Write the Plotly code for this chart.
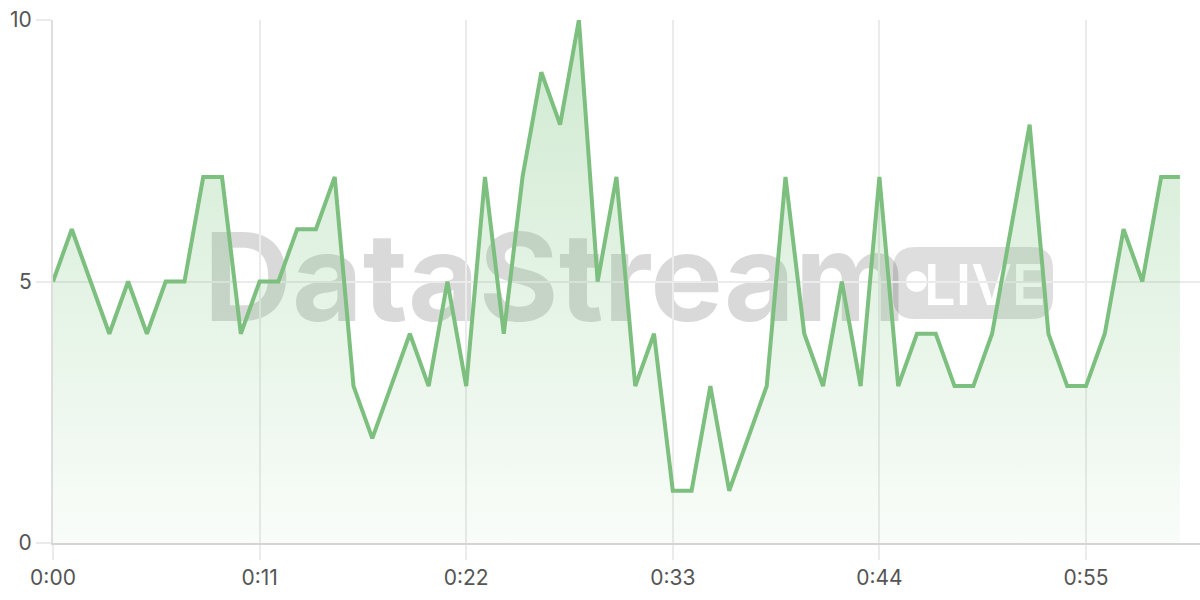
import plotly.graph_objects as go

seconds = list(range(61))
values = [5, 6, 5, 4, 5, 4, 5, 5, 7, 7,
          4, 5, 5, 6, 6, 7, 3, 2, 3, 4,
          3, 5, 3, 7, 4, 7, 9, 8, 10, 5,
          7, 3, 4, 1, 1, 3, 1, 2, 3, 7,
          4, 3, 5, 3, 7, 3, 4, 4, 3, 3,
          4, 6, 8, 4, 3, 3, 4, 6, 5, 7, 7]
x_tickvals = [0, 11, 22, 33, 44, 55]
x_ticktext = ["0:00", "0:11", "0:22", "0:33", "0:44", "0:55"]
y_tickvals = [0, 5, 10]

# plot area in pixels
L, R, T, B = 53, 1200, 20, 543
W, H = R - L, B - T


def px(x):
    return (x - L) / W


def py(y):
    return (B - y) / H


fig = go.Figure()
fig.add_trace(go.Scatter(
    x=seconds, y=values, mode="lines",
    line=dict(color="#7cbf7e", width=4),
    fill="tozeroy",
    fillgradient=dict(type="vertical",
                      colorscale=[[0, "rgba(102,187,106,0.04)"],
                                  [1, "rgba(102,187,106,0.32)"]]),
    hoverinfo="skip",
))

wm = "rgba(0,0,0,0.15)"
shapes = []
# DataStream text
shapes.append(dict(type="rect", xref="paper", yref="paper", layer="below",
                   x0=px(204), x1=px(906), y0=py(320), y1=py(225),
                   line=dict(width=0), fillcolor="rgba(0,0,0,0)",
                   label=dict(text="DataStream", textposition="middle center",
                              font=dict(family="Inter", size=122, color=wm, weight=700))))
# badge rounded rect
bx0, bx1, by0, by1, r = 893, 1053, 247, 319, 22
rx, ry = r / W, r / H
X0, X1, Y0, Y1 = px(bx0), px(bx1), py(by1), py(by0)
path = (f"M {X0+rx},{Y0} L {X1-rx},{Y0} Q {X1},{Y0} {X1},{Y0+ry} "
        f"L {X1},{Y1-ry} Q {X1},{Y1} {X1-rx},{Y1} L {X0+rx},{Y1} "
        f"Q {X0},{Y1} {X0},{Y1-ry} L {X0},{Y0+ry} Q {X0},{Y0} {X0+rx},{Y0} Z")
shapes.append(dict(type="path", xref="paper", yref="paper", layer="below",
                   path=path, fillcolor="rgba(0,0,0,0.13)", line=dict(width=0)))
shapes.append(dict(type="circle", xref="paper", yref="paper", layer="below",
                   x0=px(906), x1=px(927), y0=py(292), y1=py(271),
                   fillcolor="white", line=dict(width=0)))
shapes.append(dict(type="rect", xref="paper", yref="paper", layer="below",
                   x0=px(936), x1=px(1034), y0=py(310), y1=py(255),
                   line=dict(width=0), fillcolor="rgba(0,0,0,0)",
                   label=dict(text="LIVE", textposition="middle center",
                              font=dict(family="Inter", size=56, color="white", weight=600))))

fig.update_layout(
    width=1200, height=600,
    margin=dict(l=L, r=1200 - R, t=T, b=600 - B, autoexpand=False),
    plot_bgcolor="white", paper_bgcolor="white",
    showlegend=False,
    shapes=shapes,
    font=dict(family="Inter", size=21, color="#555555"),
    xaxis=dict(range=[0, (R - L) / (1086 - 53) * 55], tickvals=x_tickvals, ticktext=x_ticktext,
               showgrid=True, gridcolor="#ebebeb", gridwidth=1.5,
               ticks="outside", ticklen=15, tickcolor="#ebebeb", tickwidth=1.5,
               showline=True, linecolor="#d4d4d4", linewidth=2,
               zeroline=False, fixedrange=True, automargin=False),
    yaxis=dict(range=[0, 10], tickvals=y_tickvals,
               showgrid=True, gridcolor="#ebebeb", gridwidth=1.5,
               ticks="outside", ticklen=15, tickcolor="#ebebeb", tickwidth=1.5,
               showline=True, linecolor="#dedede", linewidth=2,
               zeroline=False, fixedrange=True, automargin=False),
)

fig.write_html("out.html", config={"displayModeBar": False},
               post_script="document.body.style.margin='0';document.body.style.overflow='hidden';")
